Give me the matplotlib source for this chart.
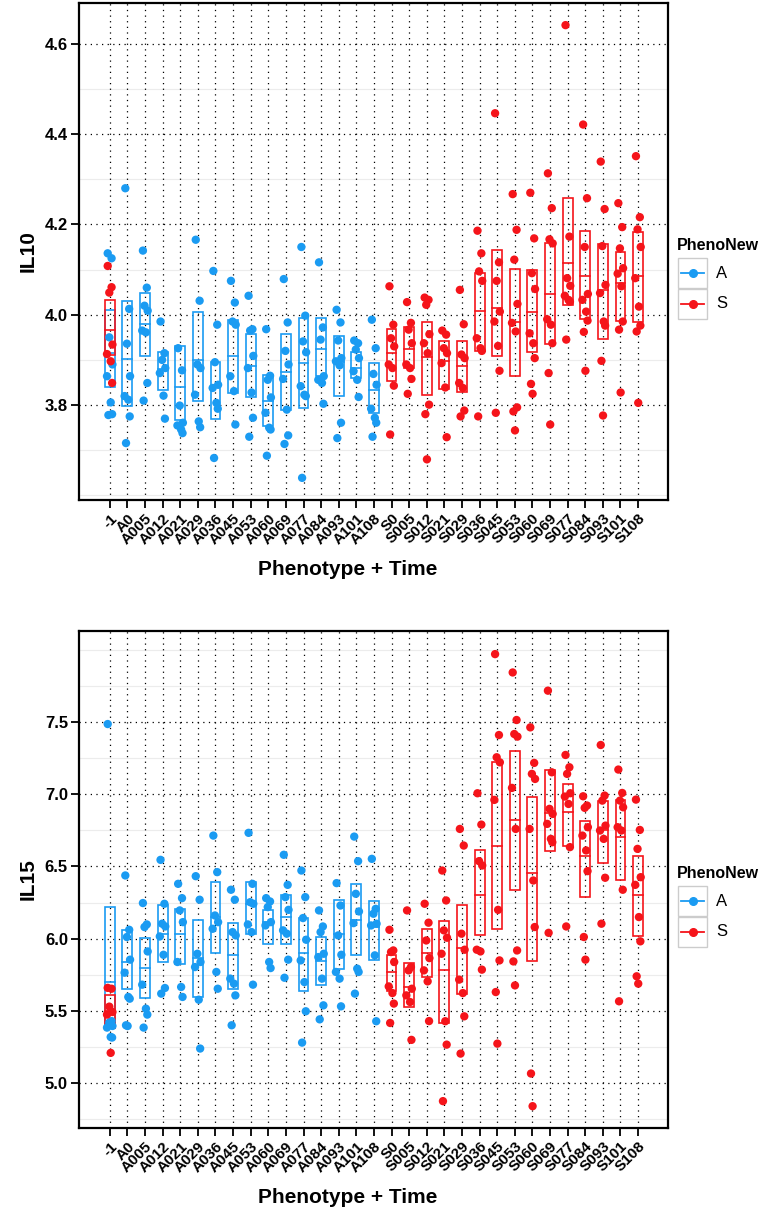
import matplotlib
matplotlib.use("Agg")
import matplotlib.pyplot as plt
from matplotlib.lines import Line2D
from matplotlib.patches import Rectangle

plt.rcParams['font.family'] = ['Liberation Sans', 'DejaVu Sans']

# categories along the x axis
categories = ['-1', 'A0', 'A005', 'A012', 'A021', 'A029', 'A036', 'A045', 'A053',
              'A060', 'A069', 'A077', 'A084', 'A093', 'A101', 'A108',
              'S0', 'S005', 'S012', 'S021', 'S029', 'S036', 'S045', 'S053',
              'S060', 'S069', 'S077', 'S084', 'S093', 'S101', 'S108']
a_cats = categories[:16]
s_cats = ['-1'] + categories[16:]

# ---- IL10 ----
il10_a_points = [
    [4.136, 4.125, 3.95, 3.89, 3.864, 3.806, 3.78, 3.778],
    [4.28, 4.013, 3.936, 3.864, 3.82, 3.812, 3.775, 3.716],
    [4.142, 4.06, 4.02, 4.009, 3.965, 3.961, 3.849, 3.81],
    [3.985, 3.915, 3.90, 3.882, 3.871, 3.821, 3.770],
    [3.926, 3.877, 3.799, 3.761, 3.755, 3.746, 3.738],
    [4.166, 4.031, 3.89, 3.882, 3.823, 3.764, 3.751],
    [4.097, 3.978, 3.895, 3.845, 3.838, 3.805, 3.792, 3.683],
    [4.075, 4.027, 3.985, 3.978, 3.864, 3.831, 3.757],
    [4.042, 3.968, 3.965, 3.909, 3.882, 3.828, 3.772, 3.73],
    [3.968, 3.865, 3.856, 3.817, 3.783, 3.75, 3.746, 3.688],
    [4.079, 3.983, 3.92, 3.89, 3.858, 3.79, 3.733, 3.714],
    [4.15, 3.998, 3.941, 3.917, 3.842, 3.823, 3.82, 3.639],
    [4.116, 3.972, 3.945, 3.864, 3.856, 3.849, 3.803],
    [4.011, 3.983, 3.943, 3.904, 3.897, 3.888, 3.761, 3.727],
    [3.943, 3.937, 3.923, 3.904, 3.875, 3.856, 3.818],
    [3.989, 3.926, 3.869, 3.845, 3.792, 3.772, 3.761, 3.73],
]
il10_a_box = [
    (3.839, 3.915, 4.011), (3.799, 3.902, 4.031), (3.909, 3.979, 4.049),
    (3.834, 3.88, 3.917), (3.766, 3.839, 3.931), (3.81, 3.90, 4.007),
    (3.770, 3.84, 3.895), (3.827, 3.909, 3.989), (3.817, 3.887, 3.957),
    (3.753, 3.81, 3.866), (3.79, 3.873, 3.957), (3.794, 3.893, 3.993),
    (3.864, 3.924, 3.993), (3.82, 3.895, 3.952), (3.86, 3.882, 3.917),
    (3.783, 3.834, 3.893),
]
il10_s_points = [
    [4.108, 4.061, 4.049, 3.934, 3.913, 3.897, 3.849],
    [4.063, 3.978, 3.948, 3.93, 3.89, 3.882, 3.843, 3.735],
    [4.028, 3.982, 3.967, 3.937, 3.89, 3.882, 3.858, 3.825],
    [4.038, 4.033, 4.022, 3.957, 3.937, 3.915, 3.801, 3.78, 3.68],
    [3.965, 3.956, 3.926, 3.915, 3.893, 3.839, 3.729],
    [4.055, 3.979, 3.912, 3.904, 3.849, 3.838, 3.788, 3.775],
    [4.186, 4.136, 4.096, 4.075, 3.948, 3.926, 3.92, 3.775],
    [4.446, 4.116, 4.075, 4.007, 3.985, 3.931, 3.876, 3.783],
    [4.267, 4.188, 4.122, 4.024, 3.982, 3.963, 3.795, 3.786, 3.744],
    [4.27, 4.169, 4.092, 4.057, 3.959, 3.937, 3.904, 3.847, 3.825],
    [4.313, 4.236, 4.167, 4.158, 3.99, 3.978, 3.937, 3.871, 3.757],
    [4.641, 4.173, 4.081, 4.064, 4.042, 4.033, 4.029, 3.945],
    [4.421, 4.258, 4.15, 4.046, 4.033, 4.007, 3.987, 3.962, 3.876],
    [4.339, 4.234, 4.152, 4.066, 4.048, 3.985, 3.976, 3.898, 3.777],
    [4.247, 4.194, 4.147, 4.103, 4.091, 4.063, 3.985, 3.967, 3.828],
    [4.351, 4.216, 4.189, 4.15, 4.081, 4.018, 3.976, 3.963, 3.805],
]
il10_s_box = [
    (3.912, 3.967, 4.033), (3.853, 3.915, 3.968), (3.882, 3.924, 3.972),
    (3.823, 3.906, 3.983), (3.836, 3.898, 3.941), (3.83, 3.886, 3.943),
    (3.919, 4.009, 4.092), (3.909, 4.015, 4.144), (3.864, 3.985, 4.101),
    (3.917, 4.007, 4.099), (3.936, 4.046, 4.158), (4.022, 4.114, 4.258),
    (3.99, 4.085, 4.186), (3.946, 4.055, 4.157), (3.987, 4.07, 4.14),
    (3.983, 4.085, 4.184),
]

# ---- IL15 ----
il15_a_points = [
    [7.486, 5.43, 5.42, 5.396, 5.385, 5.32, 5.316],
    [6.438, 6.062, 6.012, 5.855, 5.765, 5.597, 5.585, 5.401, 5.396],
    [6.247, 6.099, 6.081, 5.912, 5.682, 5.516, 5.475, 5.385],
    [6.546, 6.242, 6.104, 6.085, 6.016, 5.889, 5.659, 5.62],
    [6.38, 6.281, 6.196, 6.115, 5.839, 5.666, 5.597],
    [6.433, 6.27, 5.896, 5.839, 5.804, 5.578, 5.24],
    [6.714, 6.461, 6.161, 6.115, 6.069, 5.77, 5.654],
    [6.339, 6.27, 6.046, 6.023, 5.724, 5.689, 5.608, 5.401],
    [6.733, 6.38, 6.253, 6.242, 6.099, 6.046, 5.682],
    [6.281, 6.258, 6.219, 6.115, 6.092, 5.839, 5.797],
    [6.581, 6.373, 6.288, 6.2, 6.058, 6.035, 5.855, 5.73],
    [6.472, 6.288, 6.143, 5.993, 5.85, 5.7, 5.498, 5.281],
    [6.196, 6.085, 6.046, 5.896, 5.873, 5.724, 5.539, 5.442],
    [6.385, 6.23, 6.023, 5.889, 5.77, 5.724, 5.532],
    [6.707, 6.537, 6.311, 6.189, 6.108, 5.793, 5.77, 5.62],
    [6.553, 6.207, 6.173, 6.104, 6.092, 5.885, 5.429],
]
il15_a_box = [
    (5.38, 5.70, 6.22), (5.654, 5.839, 6.058), (5.59, 5.8, 6.007),
    (5.839, 6.03, 6.235), (5.827, 6.03, 6.207), (5.597, 5.87, 6.131),
    (5.903, 6.15, 6.392), (5.654, 5.889, 6.108), (6.03, 6.242, 6.396),
    (5.965, 6.115, 6.196), (5.961, 6.15, 6.306), (5.636, 5.903, 6.145),
    (5.677, 5.846, 6.012), (5.793, 6.03, 6.27), (5.885, 6.131, 6.376),
    (5.85, 6.081, 6.258),
]
il15_s_points = [
    [5.66, 5.654, 5.53, 5.493, 5.475, 5.21],
    [6.062, 5.919, 5.908, 5.839, 5.67, 5.624, 5.551, 5.417],
    [6.196, 5.804, 5.781, 5.654, 5.608, 5.562, 5.3],
    [6.242, 6.111, 5.988, 5.866, 5.781, 5.705, 5.43],
    [6.472, 6.265, 6.058, 6.007, 5.896, 5.429, 5.267, 4.876],
    [6.76, 6.645, 6.035, 5.924, 5.717, 5.624, 5.463, 5.205],
    [7.007, 6.79, 6.537, 6.507, 5.924, 5.912, 5.786],
    [7.97, 7.41, 7.256, 7.221, 6.961, 6.2, 5.85, 5.631, 5.274],
    [7.843, 7.514, 7.417, 7.399, 7.044, 6.76, 5.919, 5.843, 5.677],
    [7.463, 7.217, 7.141, 7.106, 6.76, 6.403, 6.081, 5.067, 4.841],
    [7.717, 7.152, 6.899, 6.864, 6.795, 6.691, 6.668, 6.041],
    [7.272, 7.187, 7.141, 7.007, 6.984, 6.933, 6.634, 6.085],
    [6.986, 6.922, 6.906, 6.772, 6.714, 6.611, 6.468, 6.012, 5.855],
    [7.341, 6.991, 6.956, 6.783, 6.749, 6.691, 6.422, 6.104],
    [7.171, 7.009, 6.956, 6.91, 6.772, 6.749, 6.339, 5.567],
    [6.963, 6.753, 6.622, 6.426, 6.373, 6.15, 5.982, 5.74, 5.689],
]
il15_s_box = [
    (5.385, 5.50, 5.61), (5.638, 5.77, 5.885), (5.528, 5.666, 5.832),
    (5.735, 5.901, 6.069), (5.417, 5.786, 6.12), (5.62, 5.938, 6.235),
    (6.028, 6.3, 6.611), (6.065, 6.641, 7.221), (6.334, 6.823, 7.302),
    (5.843, 6.456, 6.979), (6.604, 6.869, 7.171), (6.645, 6.88, 7.071),
    (6.288, 6.576, 6.813), (6.525, 6.753, 6.956), (6.408, 6.707, 6.961),
    (6.016, 6.3, 6.571),
]

BLUE = '#1A9BF2'
RED = '#F5141A'
W, H = 768, 1211
# fixed jitter pattern (horizontal spread of the dots)
jit = [-0.12, 0.10, -0.03, 0.15, -0.16, 0.05, 0.13, -0.08, 0.01]


def fx(px):
    return px / W


def fy(py):
    return 1 - py / H


def draw_group(ax, cats, pts, boxes, color):
    for cat, p, b in zip(cats, pts, boxes):
        i = categories.index(cat)
        lo, mid, hi = b
        ax.add_patch(Rectangle((i - 0.28, lo), 0.56, hi - lo, fill=False,
                               edgecolor=color, lw=1.2, zorder=3))
        ax.plot([i - 0.28, i + 0.28], [mid, mid], color=color, lw=1.2, zorder=3)


def draw_dots(ax, cats, pts, color):
    for cat, p in zip(cats, pts):
        i = categories.index(cat)
        xs = [i + jit[k % len(jit)] for k in range(len(p))]
        ax.scatter(xs, p, s=36, color=color, edgecolors='none', zorder=4)


def setup_axes(ax, ylim, majors, faint, ylabel):
    ax.set_xlim(-1.75, 31.7)
    ax.set_ylim(*ylim)
    for v in faint:
        ax.axhline(v, color='#ececec', lw=0.8, zorder=0)
    for v in majors:
        ax.axhline(v, color='black', lw=0.9, ls=(0, (1, 3.5)), zorder=1)
    for i in range(len(categories)):
        ax.axvline(i, color='black', lw=0.9, ls=(0, (1, 3.5)), zorder=1)
    ax.set_yticks(majors)
    ax.set_yticklabels([f'{v:.1f}' for v in majors], fontweight='bold', fontsize=12)
    ax.set_xticks(range(len(categories)))
    ax.set_xticklabels(categories, rotation=45, ha='right', rotation_mode='anchor',
                       fontweight='bold', fontsize=11)
    ax.tick_params(axis='both', length=6, width=1.3, color='black', pad=2)
    for sp in ax.spines.values():
        sp.set_linewidth(1.6)
    ax.set_ylabel(ylabel, fontweight='bold', fontsize=15)
    ax.yaxis.set_label_coords(-0.07, 0.5)
    ax.set_xlabel('Phenotype + Time', fontweight='bold', fontsize=15)
    ax.xaxis.set_label_coords((348 - 79) / (668 - 79), -0.12)


def legend(fig, top):
    fig.text(fx(677), fy(top + 5), 'PhenoNew', fontweight='bold', fontsize=11.5,
             va='center', ha='left')
    for k, (lab, col) in enumerate([('A', BLUE), ('S', RED)]):
        y0 = top + 18 + k * 31
        fig.add_artist(Rectangle((fx(678), fy(y0 + 30)), fx(29), 30 / H,
                                 fill=False, edgecolor='#cccccc', lw=1.0,
                                 transform=fig.transFigure))
        yc = fy(y0 + 15)
        fig.add_artist(Line2D([fx(681), fx(704)], [yc, yc], color=col, lw=1.3,
                              marker=None, transform=fig.transFigure))
        fig.add_artist(Line2D([fx(692.5)], [yc], color=col, marker='o', ms=5.5,
                              transform=fig.transFigure))
        fig.text(fx(716), yc, lab, fontsize=12, va='center', ha='left')


fig = plt.figure(figsize=(W / 100, H / 100), dpi=100)
ax1 = fig.add_axes([fx(79), fy(500), fx(668) - fx(79), fy(3) - fy(500)])
ax2 = fig.add_axes([fx(79), fy(1128), fx(668) - fx(79), fy(631) - fy(1128)])

setup_axes(ax1, (3.59, 4.69), [3.8, 4.0, 4.2, 4.4, 4.6],
           [3.6, 3.7, 3.9, 4.1, 4.3, 4.5], 'IL10')
draw_group(ax1, a_cats, il10_a_points, il10_a_box, BLUE)
draw_group(ax1, s_cats, il10_s_points, il10_s_box, RED)
draw_dots(ax1, a_cats, il10_a_points, BLUE)
draw_dots(ax1, s_cats, il10_s_points, RED)

setup_axes(ax2, (4.69, 8.13), [5.0, 5.5, 6.0, 6.5, 7.0, 7.5],
           [4.75, 5.25, 5.75, 6.25, 6.75, 7.25, 7.75, 8.0], 'IL15')
draw_group(ax2, a_cats, il15_a_points, il15_a_box, BLUE)
draw_group(ax2, s_cats, il15_s_points, il15_s_box, RED)
draw_dots(ax2, a_cats, il15_a_points, BLUE)
draw_dots(ax2, s_cats, il15_s_points, RED)

legend(fig, 240)
legend(fig, 868)

fig.savefig('out.png', dpi=100)
